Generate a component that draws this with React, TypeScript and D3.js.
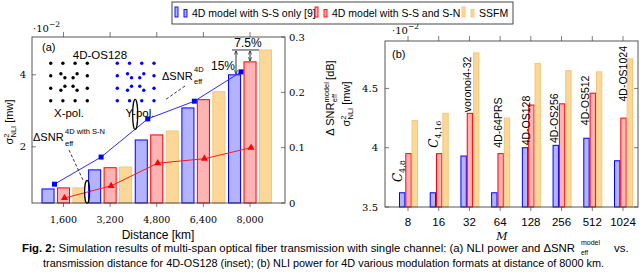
import React from "react";
import * as d3 from "d3";

// (a) NLI power vs distance, 4D-OS128
const distances = [1600, 3200, 4800, 6400, 8000];
const distLabels = ["1,600", "3,200", "4,800", "6,400", "8,000"];
const nliSSOnly = [0.83, 1.36, 2.19, 3.08, 4.0];
const nliSSSN = [0.86, 1.42, 2.33, 3.31, 4.36];
const nliSSFM = [0.86, 1.44, 2.44, 3.53, 4.69];
const snr4D = [0.034, 0.083, 0.152, 0.184, 0.237];
const snr4DSN = [0.009, 0.031, 0.072, 0.08, 0.1];
const nliTicksA = [2, 4];
const snrTicks = [0, 0.1, 0.2, 0.3];

// (b) NLI power for various formats at 8000 km
const orders = ["8", "16", "32", "64", "128", "256", "512", "1024"];
const fmtSSOnly = [3.62, 3.62, 3.93, 3.62, 4.0, 4.02, 4.08, 3.89];
const fmtSSSN = [3.95, 3.95, 4.29, 3.95, 4.36, 4.37, 4.46, 4.25];
const fmtSSFM = [4.23, 4.29, 4.8, 4.25, 4.71, 4.65, 4.64, 4.75];
const fmtNames = ["C", "C", "voronoi4-32", "4D-64PRS", "4D-OS128", "4D-OS256", "4D-OS512", "4D-OS1024"];
const fmtSubs = ["4,8", "4,16", "", "", "", "", "", ""];
const fmtLabelAt = [3.71, 4.0, 4.3, 4.0, 4.02, 4.04, 4.19, 4.39];
const nliTicksB = [3.5, 4, 4.5];

// inset constellation (per polarisation), 16QAM grid with split inner points
const ring = [-3, -1, 1, 3];
const constellation: [number, number][] = [];
ring.forEach((a) =>
  ring.forEach((b) => {
    if (Math.abs(a) === 3 || Math.abs(b) === 3) constellation.push([a, b]);
    else {
      constellation.push([a * 0.67, b * 0.67]);
      constellation.push([a * 1.33, b * 1.33]);
    }
  })
);

const series = ["ss", "sn", "ssfm"];
const fills = { ss: "#b3b3ff", sn: "#ffb3b3", ssfm: "#fbd898" };
const strokes = { ss: "#0000ff", sn: "#ff0000", ssfm: "#f5c67c" };

const serif = "'DejaVu Serif', serif";
const sans = "'Liberation Sans', Arial, sans-serif";

const aL = 32, aR = 285, aT = 37, aB = 203;
const bL = 385, bR = 638, bT = 41, bB = 207;

const App = () => {
  const xA = d3.scaleLinear().domain([520, 9200]).range([aL, aR]);
  const yA = d3.scaleLinear().domain([0.44, 5.05]).range([aB, aT]);
  const yR = d3.scaleLinear().domain([0, 0.3]).range([aB, aT]);
  const bandA = d3.scaleBand().domain(series).range([-21.5, 21.5]).paddingInner(0.22);

  const xB = d3.scalePoint().domain(orders).range([408, 623]);
  const yB = d3.scaleLinear().domain([3.5, 4.9]).range([bB, bT]);
  const bandB = d3.scaleBand().domain(series).range([-8.5, 9.5]).paddingInner(0.15);

  const dataA = { ss: nliSSOnly, sn: nliSSSN, ssfm: nliSSFM };
  const dataB = { ss: fmtSSOnly, sn: fmtSSSN, ssfm: fmtSSFM };

  const lineBlue = d3
    .line<number>()
    .x((_, i) => xA(distances[i]) - 9)
    .y((d) => yR(d));
  const lineRed = d3
    .line<number>()
    .x((_, i) => xA(distances[i]) + 1)
    .y((d) => yR(d));
  const tri = d3.symbol().type(d3.symbolTriangle).size(22)();

  const cX1 = d3.scaleLinear().domain([-3, 3]).range([50.7, 87.3]);
  const cX2 = d3.scaleLinear().domain([-3, 3]).range([117.3, 154]);
  const cY = d3.scaleLinear().domain([3, -3]).range([63.3, 100.7]);

  const legend = [
    { key: "ss", label: "4D model with S-S only [9]", x: 175 },
    { key: "sn", label: "4D model with S-S and S-N", x: 315 },
    { key: "ssfm", label: "SSFM", x: 462 },
  ];

  return (
    <svg width={640} height={272} style={{ position: "fixed", left: 0, top: 0, background: "#fff" }}>
      <defs>
        <marker id="ah" viewBox="0 0 10 10" refX="9" refY="5" markerWidth="5" markerHeight="5" orient="auto-start-reverse">
          <path d="M0,1 L10,5 L0,9" fill="none" stroke="#000" strokeWidth="1.5" />
        </marker>
      </defs>

      {/* ---------- panel (a) ---------- */}
      {series.map((s) => (
        <g key={s}>
          {dataA[s].map((v: number, i: number) => {
            const x = xA(distances[i]) + (bandA(s) as number);
            return (
              <rect key={i} x={x} y={yA(v)} width={bandA.bandwidth()} height={aB - yA(v)}
                fill={fills[s]} stroke={strokes[s]} strokeWidth={1} />
            );
          })}
        </g>
      ))}
      <path d={lineBlue(snr4D) as string} fill="none" stroke="#2b2bff" strokeWidth={1} />
      {snr4D.map((v, i) => (
        <rect key={i} x={xA(distances[i]) - 9 - 2.5} y={yR(v) - 2.5} width={5} height={5} fill="#0000ff" />
      ))}
      <path d={lineRed(snr4DSN) as string} fill="none" stroke="#ff1a1a" strokeWidth={1} />
      {snr4DSN.map((v, i) => (
        <path key={i} d={tri as string} transform={`translate(${xA(distances[i]) + 1},${yR(v)})`} fill="#ff0000" />
      ))}

      <rect x={aL} y={aT} width={aR - aL} height={aB - aT} fill="none" stroke="#444" strokeWidth={0.9} />
      {distances.map((d, i) => (
        <g key={i}>
          <line x1={xA(d)} x2={xA(d)} y1={aB} y2={aB + 4} stroke="#444" strokeWidth={0.7} />
          <line x1={xA(d)} x2={xA(d)} y1={aT} y2={aT - 5} stroke="#444" strokeWidth={0.7} />
          <text x={xA(d)} y={223} textAnchor="middle" fontFamily={serif} fontSize={9.5}>{distLabels[i]}</text>
        </g>
      ))}
      {nliTicksA.map((t) => (
        <g key={t}>
          <line x1={aL} x2={aL + 4} y1={yA(t)} y2={yA(t)} stroke="#444" strokeWidth={0.7} />
          <text x={26} y={yA(t) + 3.5} textAnchor="end" fontFamily={serif} fontSize={10}>{t}</text>
        </g>
      ))}
      {snrTicks.map((t) => (
        <g key={t}>
          <line x1={aR - 4} x2={aR} y1={yR(t)} y2={yR(t)} stroke="#444" strokeWidth={0.7} />
          <text x={289} y={yR(t) + 3.5} textAnchor="start" fontFamily={serif} fontSize={10}>{t}</text>
        </g>
      ))}
      <text x={33} y={32} fontFamily={serif} fontSize={10}>·10<tspan dy={-5} fontSize={7.5}>−2</tspan></text>
      <text x={158} y={239} textAnchor="middle" fontFamily={sans} fontSize={12}>Distance [km]</text>
      <g transform="translate(13,122) rotate(-90)">
        <text textAnchor="middle" fontFamily={sans} fontSize={11}>
          σ<tspan dy={-4} fontSize={7.5}>2</tspan><tspan dx={-4} dy={7} fontSize={7.5}>NLI</tspan><tspan dy={-3}> [mw]</tspan>
        </text>
      </g>
      <g transform="translate(334,98) rotate(-90)">
        <text textAnchor="middle" fontFamily={sans} fontSize={11}>
          Δ SNR<tspan dy={-5} fontSize={7.5}>model</tspan><tspan dx={-20} dy={8} fontSize={7.5}>eff</tspan><tspan dx={11} dy={-3}> [dB]</tspan>
        </text>
      </g>

      {/* inset */}
      <text x={42} y={51} fontFamily={sans} fontSize={11}>(a)</text>
      <text x={100} y={59} textAnchor="middle" fontFamily={sans} fontSize={11.5}>4D-OS128</text>
      {constellation.map(([a, b], i) => (
        <g key={i}>
          <circle cx={cX1(a)} cy={cY(b)} r={1.7} fill="#000" />
          <circle cx={cX2(a)} cy={cY(b)} r={1.7} fill="#0000ff" />
        </g>
      ))}
      <text x={69} y={117} textAnchor="middle" fontFamily={sans} fontSize={11.5}>X-pol.</text>
      <text x={140} y={117} textAnchor="middle" fontFamily={sans} fontSize={11.5}>Y-pol.</text>

      {/* delta SNR annotations */}
      <text x={162} y={80} fontFamily={sans} fontSize={11}>ΔSNR</text>
      <text x={194} y={72} fontFamily={sans} fontSize={7.5}>4D</text>
      <text x={194} y={84} fontFamily={sans} fontSize={7.5}>eff</text>
      <line x1={185} y1={86} x2={165} y2={100} stroke="#000" strokeWidth={0.8} strokeDasharray="3,2" />
      <ellipse cx={xA(4060)} cy={yR(0.16)} rx={2.5} ry={15} fill="none" stroke="#000" strokeWidth={1.2} />

      <text x={33} y={141} fontFamily={sans} fontSize={11}>ΔSNR</text>
      <text x={65} y={134} fontFamily={sans} fontSize={7.5}>4D with S-N</text>
      <text x={65} y={146} fontFamily={sans} fontSize={7.5}>eff</text>
      <line x1={69} y1={150} x2={83} y2={180} stroke="#000" strokeWidth={0.8} strokeDasharray="3,2" />
      <ellipse cx={xA(2410)} cy={yR(0.02)} rx={2.5} ry={11.5} fill="none" stroke="#000" strokeWidth={1.2} />

      {/* percentage annotations */}
      <line x1={232} x2={259} y1={yA(nliSSFM[4])} y2={yA(nliSSFM[4])} stroke="#000" strokeWidth={0.8} />
      <line x1={236} x2={236} y1={yA(nliSSFM[4]) + 1} y2={yA(nliSSOnly[4]) - 1} stroke="#000" strokeWidth={0.8}
        markerStart="url(#ah)" markerEnd="url(#ah)" />
      <line x1={250} x2={250} y1={yA(nliSSFM[4]) + 1} y2={yA(nliSSSN[4]) - 1} stroke="#000" strokeWidth={0.8}
        markerStart="url(#ah)" markerEnd="url(#ah)" />
      <text x={235} y={70} textAnchor="end" fontFamily={sans} fontSize={12}>15%</text>
      <text x={248} y={47} textAnchor="middle" fontFamily={sans} fontSize={12}>7.5%</text>

      {/* ---------- panel (b) ---------- */}
      {series.map((s) => (
        <g key={s}>
          {dataB[s].map((v: number, i: number) => {
            const x = (xB(orders[i]) as number) + (bandB(s) as number);
            return (
              <rect key={i} x={x} y={yB(v)} width={bandB.bandwidth()} height={bB - yB(v)}
                fill={fills[s]} stroke={strokes[s]} strokeWidth={1} />
            );
          })}
        </g>
      ))}
      <rect x={bL} y={bT} width={bR - bL} height={bB - bT} fill="none" stroke="#444" strokeWidth={0.9} />
      {orders.map((o) => (
        <g key={o}>
          <line x1={xB(o)} x2={xB(o)} y1={bB} y2={bB + 4} stroke="#444" strokeWidth={0.7} />
          <line x1={xB(o)} x2={xB(o)} y1={bT} y2={bT - 5} stroke="#444" strokeWidth={0.7} />
          <text x={xB(o)} y={226} textAnchor="middle" fontFamily={sans} fontSize={11.5}>{o}</text>
        </g>
      ))}
      {nliTicksB.map((t) => (
        <g key={t}>
          <line x1={bL} x2={bL + 4} y1={yB(t)} y2={yB(t)} stroke="#444" strokeWidth={0.7} />
          <line x1={bR - 4} x2={bR} y1={yB(t)} y2={yB(t)} stroke="#444" strokeWidth={0.7} />
          <text x={378} y={yB(t) + 3.5} textAnchor="end" fontFamily={serif} fontSize={10}>{t}</text>
        </g>
      ))}
      <text x={392} y={34} fontFamily={serif} fontSize={10}>·10<tspan dy={-5} fontSize={7.5}>−2</tspan></text>
      <text x={502} y={240} textAnchor="middle" fontFamily={serif} fontStyle="italic" fontSize={11}>M</text>
      <text x={392} y={58} fontFamily={sans} fontSize={11}>(b)</text>
      <g transform="translate(350,104) rotate(-90)">
        <text textAnchor="middle" fontFamily={sans} fontSize={11}>
          σ<tspan dy={-4} fontSize={7.5}>2</tspan><tspan dx={-4} dy={7} fontSize={7.5}>NLI</tspan><tspan dy={-3}> [mw]</tspan>
        </text>
      </g>
      {fmtNames.map((n, i) => {
        const dx = [-6.5, -0.5, 1.5, 1.5, -0.5, -3.5, -3.5, 3.5][i];
        const x = (xB(orders[i]) as number) + dx;
        const y = yB(fmtLabelAt[i]);
        return (
          <g key={n + i} transform={`translate(${x},${y}) rotate(-90)`}>
            {fmtSubs[i] ? (
              <text fontFamily={serif} fontStyle="italic" fontSize={12}>
                {n}<tspan dy={3} fontSize={8} fontStyle="normal">{fmtSubs[i]}</tspan>
              </text>
            ) : (
              <text fontFamily={sans} fontSize={10.5}>{n}</text>
            )}
          </g>
        );
      })}

      {/* ---------- legend ---------- */}
      <rect x={172} y={2} width={341} height={22} fill="#fff" stroke="#333" strokeWidth={0.9} />
      {legend.map((l) => (
        <g key={l.key}>
          <rect x={l.x} y={7} width={3} height={10} fill={fills[l.key]} stroke={strokes[l.key]} strokeWidth={0.9} />
          <rect x={l.x + 9} y={9.5} width={3} height={7.5} fill={fills[l.key]} stroke={strokes[l.key]} strokeWidth={0.9} />
          <text x={l.x + 17} y={17} fontFamily={sans} fontSize={10.5}>{l.label}</text>
        </g>
      ))}

      {/* ---------- caption ---------- */}
      <text x={22} y={252} fontFamily={sans} fontSize={11.5} textLength={553} lengthAdjust="spacingAndGlyphs">
        <tspan fontWeight="bold">Fig. 2:</tspan> Simulation results of multi-span optical fiber transmission with single channel: (a) NLI power and ΔSNR
      </text>
      <text x={581} y={245} fontFamily={sans} fontSize={7}>model</text>
      <text x={581} y={254.5} fontFamily={sans} fontSize={6.5}>eff</text>
      <text x={614} y={252} fontFamily={sans} fontSize={11.5}>vs.</text>
      <text x={43} y={267} fontFamily={sans} fontSize={11} textLength={561} lengthAdjust="spacingAndGlyphs">
        transmission distance for 4D-OS128 (inset); (b) NLI power for 4D various modulation formats at distance of 8000 km.
      </text>
    </svg>
  );
};

export default App;
